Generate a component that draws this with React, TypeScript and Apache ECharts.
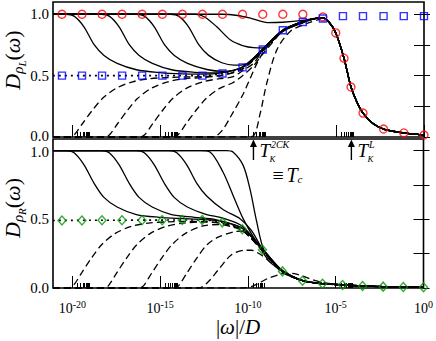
import React, { useEffect, useRef } from "react";
import * as echarts from "echarts";

// x values are log10(|ω|/D)
const X_MIN = -21.1;
const X_MAX = 0;
const majorTicks = [-20, -15, -10, -5, 0];
const minorDecades = [-20, -15, -10, -5];
const minorMultipliers = [2, 3, 4, 5, 6, 7, 8, 9];
const yTicks = [0, 0.25, 0.5, 0.75, 1];
const yRightTicks = [0.25, 0.5, 0.75, 1];
const yLabels = [0, 0.5, 1];

// annotation arrows: log10(|ω|/D)
const arrowTK2CK = -9.7;
const arrowTKL = -4.13;

// ---------- top panel (ρ_L) ----------
const redCircles = [[-20.59,1],[-19.45,1],[-18.31,1],[-17.17,1],[-16.03,1],[-14.88,1],[-13.74,1],[-12.6,1],[-11.46,1],[-10.32,1],[-9.17,1],[-8.03,1],[-6.89,1],[-5.75,0.978],[-5.02,0.848],[-4.55,0.642],[-4.15,0.407],[-3.47,0.195],[-2.3,0.065],[-1.15,0.033],[0,0.016]];
const blueSquares = [[-20.59,0.5],[-19.45,0.5],[-18.31,0.5],[-17.17,0.5],[-16.03,0.5],[-14.88,0.5],[-13.74,0.5],[-12.6,0.5],[-11.46,0.518],[-10.32,0.567],[-9.17,0.713],[-8.03,0.87],[-6.89,0.937],[-5.75,0.965],[-4.61,0.985],[-3.47,0.985],[-2.3,0.985],[-1.15,0.985],[0,0.985]];
const topDottedHead = [[-21.1,0.5],[-12.6,0.5],[-11.46,0.518],[-10.32,0.567],[-9.17,0.713],[-8.03,0.87],[-6.89,0.937]];
const topTail = [[-6.3,0.962],[-5.8,0.973],[-5.4,0.935],[-5.02,0.848],[-4.55,0.642],[-4.15,0.407],[-3.8,0.28],[-3.47,0.195],[-2.9,0.11],[-2.3,0.065],[-1.15,0.033],[0,0.016]];
const topRiseSolid = [[-11.46,0.525],[-10.32,0.57],[-9.17,0.715],[-8.03,0.87],[-6.89,0.94]];
const topRiseDashed = [[-11.46,0.505],[-10.32,0.555],[-9.17,0.7],[-8.03,0.862],[-6.89,0.932]];

const tS1 = [[-21.1,1],[-20.35,1],[-19.9,0.985],[-19.35,0.9],[-18.75,0.75],[-18.2,0.665],[-17.45,0.6],[-16.35,0.548],[-15.05,0.525],[-13.75,0.514],[-12.6,0.512]];
const tS2 = [[-21.1,1],[-18.35,1],[-17.9,0.985],[-17.35,0.9],[-16.75,0.75],[-16.2,0.665],[-15.45,0.6],[-14.35,0.548],[-13.05,0.527],[-12.0,0.522]];
const tS3 = [[-21.1,1],[-16.35,1],[-15.9,0.985],[-15.35,0.9],[-14.75,0.75],[-14.2,0.665],[-13.45,0.6],[-12.35,0.55],[-11.46,0.535]];
const tS4 = [[-21.1,1],[-14.4,1],[-13.95,0.985],[-13.4,0.9],[-12.8,0.75],[-12.25,0.665],[-11.5,0.605],[-10.8,0.585],[-10.32,0.588],[-9.7,0.63]];
const tS5 = [[-21.1,1],[-13.0,1],[-12.5,0.98],[-11.8,0.9],[-11.0,0.79],[-10.32,0.745],[-9.7,0.728],[-9.17,0.725],[-8.6,0.8]];
const tS6 = [[-21.1,1],[-11.5,1],[-10.6,0.99],[-9.8,0.965],[-8.9,0.932],[-8.03,0.935],[-6.89,0.95],[-6.3,0.965]];

const tD1 = [[-21.1,0],[-20.15,0],[-19.9,0.016],[-19.42,0.11],[-18.85,0.22],[-18.28,0.315],[-17.52,0.396],[-16.57,0.45],[-15.63,0.475],[-14.5,0.485],[-13.4,0.49],[-12.6,0.492]];
const tD2 = [[-21.1,0],[-18.15,0],[-17.9,0.016],[-17.42,0.11],[-16.85,0.22],[-16.28,0.315],[-15.52,0.396],[-14.57,0.45],[-13.63,0.475],[-12.5,0.485]];
const tD3 = [[-21.1,0],[-16.15,0],[-15.9,0.016],[-15.42,0.11],[-14.85,0.22],[-14.28,0.315],[-13.52,0.396],[-12.57,0.45],[-11.63,0.475],[-10.9,0.49],[-10.32,0.54],[-9.7,0.6]];
const tD4 = [[-21.1,0],[-14.25,0],[-14.0,0.016],[-13.52,0.11],[-12.95,0.22],[-12.38,0.315],[-11.62,0.396],[-10.9,0.44],[-10.32,0.5],[-9.7,0.58],[-9.17,0.675],[-8.5,0.79]];
const tD5 = [[-21.1,0],[-12.0,0],[-11.5,0.05],[-11.0,0.165],[-10.27,0.355],[-9.5,0.6],[-9.0,0.72],[-8.5,0.8]];
const tD6 = [[-21.1,0],[-10.2,0],[-9.7,0.01],[-9.32,0.19],[-8.94,0.44],[-8.37,0.71],[-7.61,0.86],[-6.66,0.925],[-5.9,0.962]];

// ---------- bottom panel (ρ_R) ----------
const greenDiamonds = [[-20.59,0.492],[-19.45,0.492],[-18.31,0.493],[-17.17,0.493],[-16.03,0.494],[-14.88,0.494],[-13.74,0.495],[-12.6,0.495],[-11.46,0.478],[-10.32,0.428],[-9.17,0.278],[-8.03,0.121],[-6.89,0.053],[-5.75,0.031],[-4.61,0.022],[-3.47,0.015],[-2.3,0.01],[-1.15,0.007],[0,0.005]];
const botDottedHead = [[-21.1,0.492],[-12.6,0.495],[-11.46,0.478],[-10.32,0.428],[-9.17,0.278],[-8.03,0.121]];
const botTail = [[-6.89,0.054],[-5.75,0.032],[-4.61,0.022],[-3.47,0.015],[-2.3,0.01],[-1.15,0.007],[0,0.005]];
const botFallSolid = [[-12.6,0.5],[-11.46,0.485],[-10.32,0.435],[-9.17,0.285],[-8.03,0.125]];
const botFallDashed = [[-12.6,0.485],[-11.46,0.47],[-10.32,0.42],[-9.17,0.272],[-8.03,0.117]];

const bS1 = [[-21.1,1],[-20.35,1],[-19.9,0.985],[-19.35,0.9],[-18.75,0.76],[-18.2,0.66],[-17.45,0.59],[-16.35,0.535],[-15.05,0.515],[-13.75,0.506]];
const bS2 = [[-21.1,1],[-18.35,1],[-17.9,0.985],[-17.35,0.9],[-16.75,0.76],[-16.2,0.66],[-15.45,0.59],[-14.35,0.535],[-13.05,0.515],[-11.9,0.5]];
const bS3 = [[-21.1,1],[-16.35,1],[-15.9,0.985],[-15.35,0.9],[-14.75,0.76],[-14.2,0.66],[-13.45,0.59],[-12.35,0.535],[-11.46,0.51],[-10.32,0.45]];
const bS4 = [[-21.1,1],[-14.5,1],[-14.05,0.985],[-13.5,0.9],[-12.9,0.76],[-12.35,0.67],[-11.4,0.57],[-10.45,0.505],[-9.8,0.42]];
const bS5 = [[-21.1,1],[-12.7,1],[-12.16,0.99],[-11.42,0.845],[-10.85,0.676],[-10.28,0.507],[-9.49,0.33],[-8.75,0.19]];
const bS6 = [[-21.1,1],[-11.2,1],[-10.85,0.99],[-10.27,0.893],[-9.89,0.725],[-9.5,0.483],[-9.13,0.29],[-8.6,0.19]];

const bD1 = [[-21.1,0],[-20.2,0],[-19.95,0.016],[-19.47,0.11],[-18.9,0.22],[-18.33,0.315],[-17.57,0.396],[-16.62,0.45],[-15.68,0.472],[-14.55,0.482],[-13.4,0.485]];
const bD2 = [[-21.1,0],[-18.2,0],[-17.95,0.016],[-17.47,0.11],[-16.9,0.22],[-16.33,0.315],[-15.57,0.396],[-14.62,0.45],[-13.68,0.472],[-12.55,0.48]];
const bD3 = [[-21.1,0],[-16.2,0],[-15.95,0.016],[-15.47,0.11],[-14.9,0.22],[-14.33,0.315],[-13.57,0.396],[-12.62,0.45],[-11.68,0.462],[-10.9,0.445]];
const bD4 = [[-21.1,0],[-14.2,0],[-13.95,0.016],[-13.47,0.11],[-12.9,0.22],[-12.33,0.315],[-11.7,0.37],[-10.76,0.41],[-10.2,0.415],[-9.7,0.36]];
const bD5 = [[-21.1,0],[-12.8,0],[-12.3,0.04],[-11.7,0.13],[-10.95,0.24],[-10.19,0.275],[-9.81,0.275],[-9.24,0.24],[-8.6,0.175],[-8.03,0.115]];
const bD6 = [[-21.1,0],[-10.3,0],[-9.81,0.01],[-9.3,0.04],[-8.86,0.07],[-8.3,0.094],[-7.91,0.108],[-7.35,0.105],[-6.78,0.082],[-6.2,0.055],[-5.75,0.04],[-4.61,0.024]];

const FONT = "'Liberation Serif', 'Times New Roman', serif";

function joinSeg(head: number[][], ...segs: number[][][]) {
  const out = head.slice();
  for (const s of segs) {
    for (const p of s) {
      if (p[0] > out[out.length - 1][0] + 1e-9) out.push(p);
    }
  }
  return out;
}

const minorTicks = minorDecades.flatMap((d) => minorMultipliers.map((k) => d + Math.log10(k)));

function lineSeries(data: number[][], axis: number, type: any, width = 1.3) {
  return {
    type: "line",
    data,
    xAxisIndex: axis * 2,
    yAxisIndex: axis * 2,
    symbol: "none",
    smooth: 0.3,
    silent: true,
    z: 2,
    lineStyle: { color: "#000", width, type },
  };
}

function markerSeries(data: number[][], axis: number, symbol: string, size: any, color: string) {
  return {
    type: "scatter",
    data,
    xAxisIndex: axis * 2,
    yAxisIndex: axis * 2,
    symbol,
    symbolSize: size,
    silent: true,
    z: 5,
    itemStyle: { color: "transparent", borderColor: color, borderWidth: 1.4 },
  };
}

function xAxes(gridIndex: number, withLabels: boolean) {
  return [
    {
      type: "value",
      gridIndex,
      position: "bottom",
      min: X_MIN,
      max: X_MAX,
      axisLine: { show: false, onZero: false },
      splitLine: { show: false },
      axisTick: { show: true, inside: true, length: 12, customValues: majorTicks, lineStyle: { color: "#000", width: 1 } },
      axisLabel: withLabels
        ? {
            show: true,
            customValues: majorTicks,
            margin: 11,
            formatter: (v: number) => `{b|10}{s|${v}}`,
            rich: {
              b: { fontFamily: FONT, fontSize: 14, lineHeight: 18, color: "#000", verticalAlign: "middle" },
              s: { fontFamily: FONT, fontSize: 10, lineHeight: 10, color: "#000", verticalAlign: "top" },
            },
          }
        : { show: false },
    },
    {
      type: "value",
      gridIndex,
      position: "bottom",
      min: X_MIN,
      max: X_MAX,
      axisLine: { show: false, onZero: false },
      splitLine: { show: false },
      axisTick: { show: true, inside: true, length: 5, customValues: minorTicks, lineStyle: { color: "#000", width: 1 } },
      axisLabel: { show: false },
    },
  ];
}

function yAxes(gridIndex: number, max: number, isTop: boolean) {
  const base = { fontFamily: FONT, fontSize: 15, color: "#000" };
  return [
    {
      type: "value",
      gridIndex,
      position: "left",
      min: 0,
      max,
      axisLine: { show: false },
      splitLine: { show: false },
      axisTick: { show: true, inside: true, length: 6, customValues: yTicks, lineStyle: { color: "#000", width: 1 } },
      axisLabel: {
        show: true,
        customValues: yLabels,
        formatter: (v: number) => {
          if (isTop && v === 0) return `{up|${v.toFixed(1)}}`;
          if (!isTop && v === 1) return `{dn|${v.toFixed(1)}}`;
          return `{n|${v.toFixed(1)}}`;
        },
        rich: {
          n: { ...base, lineHeight: 12 },
          up: { ...base, lineHeight: 11, padding: [0, 0, 2, 0] },
          dn: { ...base, lineHeight: 11, padding: [2, 0, 0, 0] },
        },
        margin: 4,
      },
    },
    {
      type: "value",
      gridIndex,
      position: "right",
      min: 0,
      max,
      axisLine: { show: false },
      splitLine: { show: false },
      axisTick: { show: true, inside: true, length: 10, customValues: yRightTicks, lineStyle: { color: "#000", width: 1 } },
      axisLabel: { show: false },
    },
  ];
}

export default function App() {
  const ref = useRef<HTMLDivElement>(null);
  useEffect(() => {
    if (!ref.current) return;
    const chart = echarts.init(ref.current, undefined, { renderer: "svg" });
    const dash = [7, 4];
    const dot = [2, 4];
    const series: any[] = [
      // top panel
      lineSeries(joinSeg(topDottedHead, topTail), 0, dot, 1.6),
      ...[tS1, tS2, tS3].map((h) => lineSeries(joinSeg(h, topRiseSolid, topTail), 0, "solid")),
      ...[tS4, tS5, tS6].map((h) => lineSeries(joinSeg(h, topRiseSolid, topTail), 0, "solid")),
      ...[tD1, tD2, tD3, tD4, tD5, tD6].map((h) => lineSeries(joinSeg(h, topRiseDashed, topTail), 0, dash)),
      markerSeries(redCircles, 0, "circle", 8, "#ff0000"),
      markerSeries(blueSquares, 0, "rect", 7, "#0000ff"),
      // bottom panel
      lineSeries(joinSeg(botDottedHead, botTail), 1, dot, 1.6),
      ...[bS1, bS2, bS3, bS4, bS5, bS6].map((h) => lineSeries(joinSeg(h, botFallSolid, botTail), 1, "solid")),
      ...[bD1, bD2, bD3, bD4, bD5, bD6].map((h) => lineSeries(joinSeg(h, botFallDashed, botTail), 1, dash)),
      markerSeries(greenDiamonds, 1, "diamond", [8, 9], "#009600"),
    ];
    chart.setOption({
      animation: false,
      backgroundColor: "#fff",
      grid: [
        { left: 53, top: 2, width: 371, height: 135, show: true, borderColor: "#000", borderWidth: 1.6, backgroundColor: "transparent" },
        { left: 53, top: 139, width: 371, height: 149, show: true, borderColor: "#000", borderWidth: 1.6, backgroundColor: "transparent" },
      ],
      xAxis: [...xAxes(0, false), ...xAxes(1, true)],
      yAxis: [...yAxes(0, 1.1, true), ...yAxes(1, 1.085, false)],
      series,
    });

    const a1 = chart.convertToPixel({ xAxisIndex: 0 } as any, arrowTK2CK) as number;
    const a2 = chart.convertToPixel({ xAxisIndex: 0 } as any, arrowTKL) as number;
    const arrow = (ax: number) => [
      { type: "line", shape: { x1: ax, y1: 160, x2: ax, y2: 145 }, style: { stroke: "#000", lineWidth: 1.4 }, silent: true },
      { type: "polygon", shape: { points: [[ax - 3.5, 147], [ax, 139.5], [ax + 3.5, 147]] }, style: { fill: "#000" }, silent: true },
    ];
    const txt = (x: number, y: number, text: string, size: number, italic = true, align = "left") => ({
      type: "text",
      x,
      y,
      silent: true,
      style: { text, fontFamily: FONT, fontSize: size, fontStyle: italic ? "italic" : "normal", fill: "#000", align, verticalAlign: "middle" },
    });
    const yTitleRich = {
      a: { fontFamily: FONT, fontSize: 22, fontStyle: "italic", lineHeight: 22, verticalAlign: "top" },
      p: { fontFamily: FONT, fontSize: 22, lineHeight: 22, verticalAlign: "top" },
      b: { fontFamily: FONT, fontSize: 15, fontStyle: "italic", lineHeight: 15, verticalAlign: "top", padding: [9, 0, 0, 0] },
      c: { fontFamily: FONT, fontSize: 11, fontStyle: "italic", lineHeight: 11, verticalAlign: "top", padding: [15, 0, 0, 0] },
    };
    chart.setOption({
      graphic: [
        ...arrow(a1),
        txt(a1 + 6, 150, "T", 19),
        txt(a1 + 17.5, 144.5, "2CK", 10),
        txt(a1 + 16, 158.5, "K", 9),
        txt(a1 + 19, 175, "≡", 20, false),
        txt(a1 + 33, 175, "T", 20),
        txt(a1 + 44, 179, "c", 11),
        ...arrow(a2),
        txt(a2 + 6, 150, "T", 19),
        txt(a2 + 17.5, 144.5, "L", 10),
        txt(a2 + 16, 158.5, "K", 9),
        {
          type: "text",
          x: 12,
          y: 60,
          rotation: Math.PI / 2,
          silent: true,
          style: { text: "{a|D}{b|ρ}{c|L}{p|(}{a|ω}{p|)}", rich: yTitleRich, align: "center", verticalAlign: "middle", fill: "#000" },
        },
        {
          type: "text",
          x: 12,
          y: 208,
          rotation: Math.PI / 2,
          silent: true,
          style: { text: "{a|D}{b|ρ}{c|R}{p|(}{a|ω}{p|)}", rich: yTitleRich, align: "center", verticalAlign: "middle", fill: "#000" },
        },
        {
          type: "text",
          x: 238,
          y: 327,
          silent: true,
          style: {
            text: "{p||}{w|ω}{p||/}{w|D}",
            rich: {
              p: { fontFamily: FONT, fontSize: 21 },
              w: { fontFamily: FONT, fontSize: 21, fontStyle: "italic" },
            },
            align: "center",
            verticalAlign: "middle",
            fill: "#000",
          },
        },
      ],
    });
    return () => chart.dispose();
  }, []);
  return <div ref={ref} style={{ position: "fixed", left: 0, top: 0, width: 436, height: 341 }} />;
}
